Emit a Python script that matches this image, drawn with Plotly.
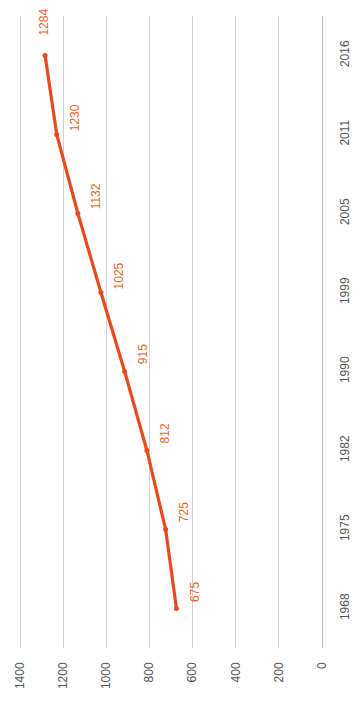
import plotly.graph_objects as go

years = ["1968", "1975", "1982", "1990", "1999", "2005", "2011", "2016"]
values = [675, 725, 812, 915, 1025, 1132, 1230, 1284]
value_ticks = [0, 200, 400, 600, 800, 1000, 1200, 1400]

LINE = "#E84A1F"
LABEL = "#EA6329"
GRID = "#D0D0D0"
TICKC = "#555555"
FONT = "Liberation Sans"

idx = list(range(len(years)))

fig = go.Figure()
fig.add_trace(go.Scatter(
    x=values, y=idx, mode="lines+markers",
    line=dict(color=LINE, width=3.2),
    marker=dict(color=LINE, size=5),
    hoverinfo="skip", showlegend=False,
))

annotations = []
for i, v in enumerate(values):
    last = i == len(values) - 1
    annotations.append(dict(
        x=v, y=i, xref="x", yref="y", text=str(v), showarrow=False,
        textangle=-90, font=dict(family=FONT, size=12, color=LABEL),
        xshift=-2 if last else 18, yshift=33 if last else 17,
    ))

fig.update_layout(
    width=364, height=708,
    margin=dict(l=19, r=39, t=16, b=60),
    paper_bgcolor="white", plot_bgcolor="white",
    annotations=annotations,
    xaxis=dict(
        range=[1405, 0], tickvals=value_ticks, ticktext=[str(t) for t in value_ticks],
        tickangle=-90, showgrid=True, gridcolor=GRID, gridwidth=1,
        zeroline=False, showline=False, ticks="",
        tickfont=dict(family=FONT, size=12, color=TICKC),
        ticklabelstandoff=11,
    ),
    yaxis=dict(
        range=[-0.5, 7.5], tickvals=idx, ticktext=years, side="right",
        tickangle=-90, showgrid=False, zeroline=False,
        showline=True, linecolor="#BFBFBF", linewidth=1, ticks="",
        tickfont=dict(family=FONT, size=12, color=TICKC),
        ticklabelstandoff=12,
    ),
)

fig.write_html("out.html")
